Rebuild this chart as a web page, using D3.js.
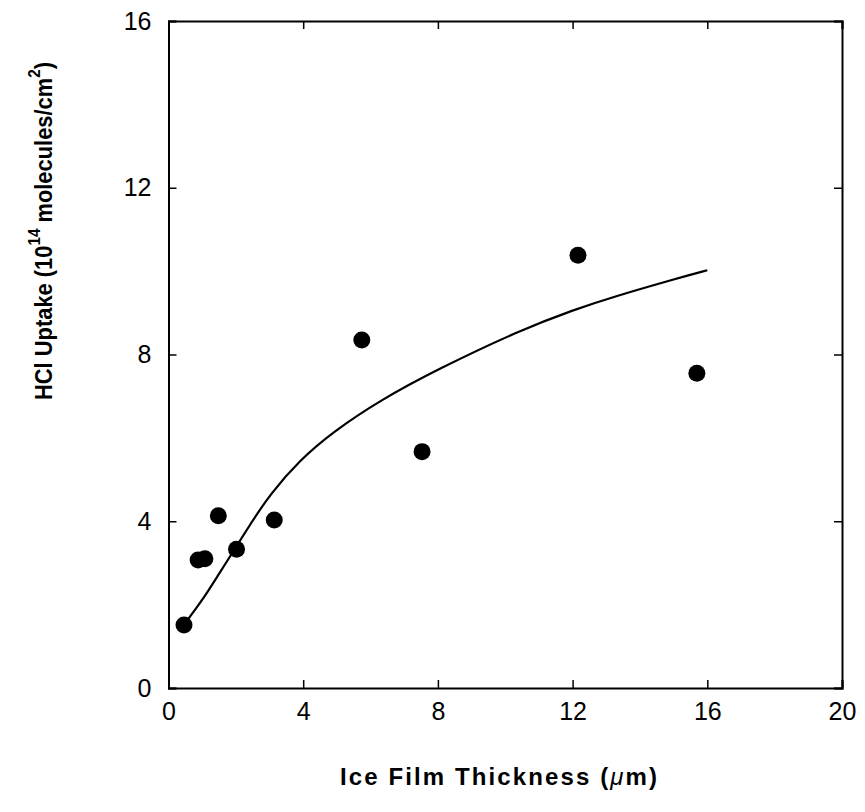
<!DOCTYPE html>
<html>
<head>
    <title></title>
    <meta charset="utf-8">
    <style>
        body { margin: 0; background: #fff; }
        text { font-family: 'Liberation Sans', Arial, Helvetica, sans-serif; fill: #000; }
    </style>
</head>
<body>
<script src="https://cdn.jsdelivr.net/npm/d3@7"></script>
<script>
    // measured points
    var thickness = [0.46, 0.88, 1.08, 1.48, 2.02, 3.14, 5.74, 7.53, 12.16, 15.69];
    var uptake    = [1.51, 3.07, 3.10, 4.13, 3.33, 4.03, 8.35, 5.67, 10.38, 7.55];

    // fitted curve
    var fitX = [0.46, 1.0, 1.43, 2.02, 2.47, 3.01, 3.9, 4.88, 6.28, 8.0, 10.43, 12.06, 13.2, 15.08, 16.0];
    var fitY = [1.52, 2.1, 2.65, 3.4, 3.98, 4.64, 5.47, 6.14, 6.9, 7.65, 8.58, 9.08, 9.38, 9.82, 10.02];

    var xTicks = [0, 4, 8, 12, 16, 20];
    var yTicks = [0, 4, 8, 12, 16];

    var W = 865, H = 812;
    var box = { left: 168.5, right: 842, top: 21, bottom: 688 };

    var svg = d3.select('body').append('svg')
        .attr('width', W)
        .attr('height', H);

    var x = d3.scaleLinear().domain([0, 20]).range([box.left, box.right]);
    var y = d3.scaleLinear().domain([0, 16]).range([box.bottom, box.top]);

    var tick = 8;

    // frame with inward ticks on all sides
    svg.append('g')
        .attr('transform', 'translate(0,' + box.bottom + ')')
        .call(d3.axisBottom(x).tickValues(xTicks).tickSize(-tick).tickPadding(14).tickFormat(d3.format('d')))
        .call(function (g) { g.selectAll('text').attr('font-size', 25).attr('dy', '0.71em'); });
    svg.append('g')
        .attr('transform', 'translate(0,' + box.top + ')')
        .call(d3.axisTop(x).tickValues(xTicks).tickSize(-tick).tickFormat(''));
    svg.append('g')
        .attr('transform', 'translate(' + box.left + ',0)')
        .call(d3.axisLeft(y).tickValues(yTicks).tickSize(-tick).tickPadding(17).tickFormat(d3.format('d')))
        .call(function (g) { g.selectAll('text').attr('font-size', 25); });
    svg.append('g')
        .attr('transform', 'translate(' + box.right + ',0)')
        .call(d3.axisRight(y).tickValues(yTicks).tickSize(-tick).tickFormat(''));

    svg.selectAll('.domain').attr('stroke', '#000').attr('stroke-width', 2);
    svg.selectAll('.tick line').attr('stroke', '#000').attr('stroke-width', 1.5);
    svg.selectAll('.tick text').attr('font-family', "'Liberation Sans', Arial, sans-serif");

    // fit curve
    var fit = fitX.map(function (d, i) { return [d, fitY[i]]; });
    svg.append('path')
        .datum(fit)
        .attr('fill', 'none')
        .attr('stroke', '#000')
        .attr('stroke-width', 2.2)
        .attr('d', d3.line()
            .x(function (d) { return x(d[0]); })
            .y(function (d) { return y(d[1]); })
            .curve(d3.curveBasis));

    // points
    svg.selectAll('circle.pt')
        .data(thickness)
        .enter().append('circle')
        .attr('class', 'pt')
        .attr('cx', function (d) { return x(d); })
        .attr('cy', function (d, i) { return y(uptake[i]); })
        .attr('r', 8.5)
        .attr('fill', '#000');

    // axis titles
    var xt = svg.append('text')
        .attr('x', 498.5)
        .attr('y', 785)
        .attr('text-anchor', 'middle')
        .attr('font-size', 24)
        .attr('font-weight', 'bold')
        .attr('textLength', 317)
        .attr('lengthAdjust', 'spacing');
    xt.append('tspan').text('Ice Film Thickness (');
    xt.append('tspan').attr('font-style', 'italic').attr('font-weight', 'normal').text('\u03bc');
    xt.append('tspan').text('m)');

    var yt = svg.append('text')
        .attr('transform', 'translate(52,231) rotate(-90)')
        .attr('text-anchor', 'middle')
        .attr('font-size', 23)
        .attr('font-weight', 'bold')
        .attr('textLength', 338)
        .attr('lengthAdjust', 'spacingAndGlyphs');
    yt.append('tspan').text('HCl Uptake (10');
    yt.append('tspan').attr('dy', -12).attr('font-size', 16).text('14');
    yt.append('tspan').attr('dy', 12).text('  molecules/cm');
    yt.append('tspan').attr('dy', -12).attr('font-size', 16).text('2');
    yt.append('tspan').attr('dy', 12).text(')');
</script>
</body>
</html>
